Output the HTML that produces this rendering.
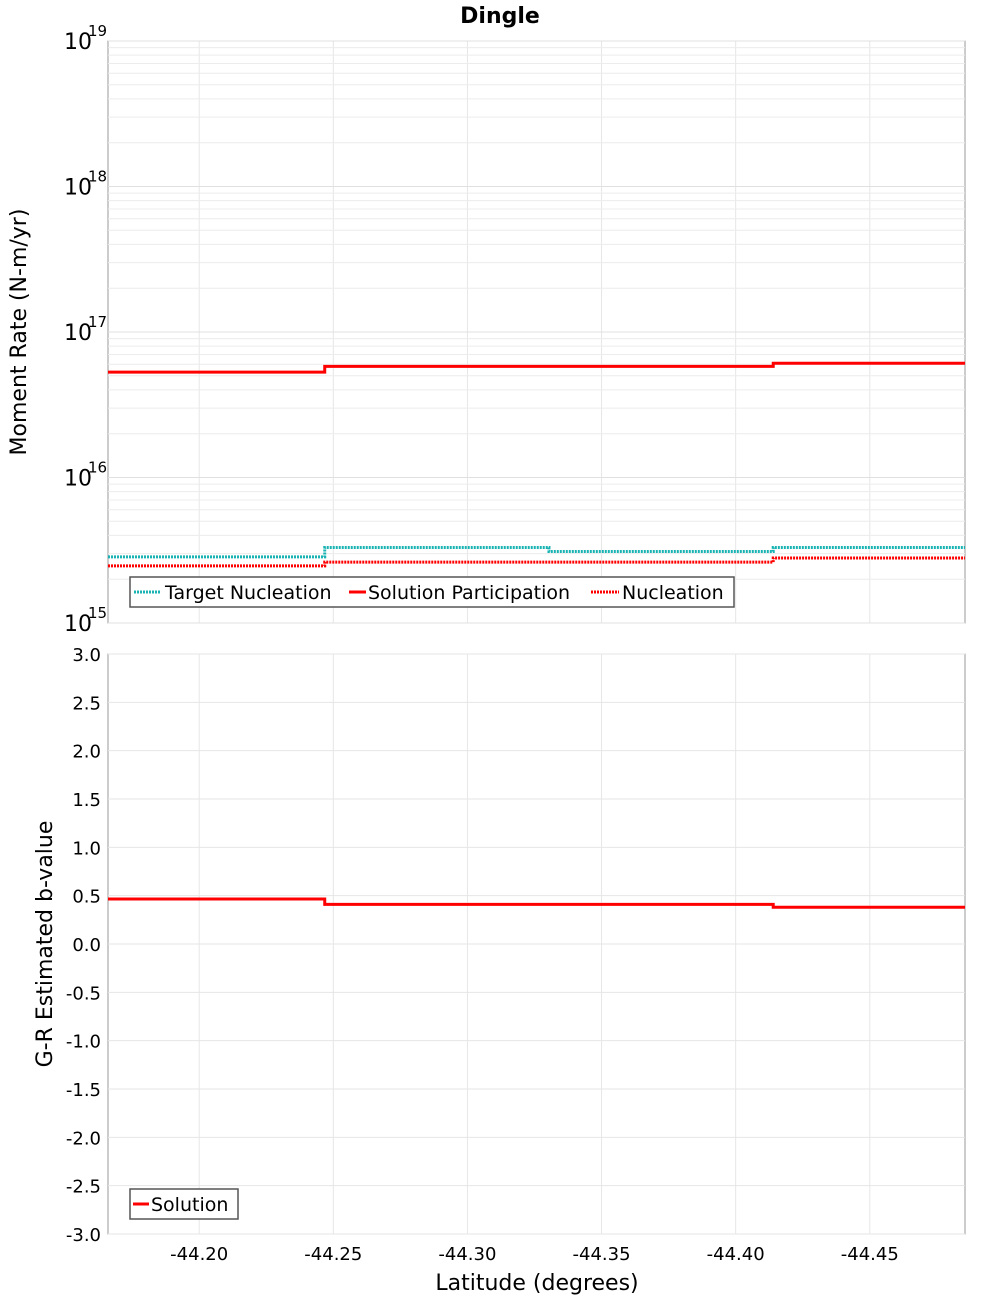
<!DOCTYPE html>
<html><head><meta charset="utf-8"><style>
body{margin:0;background:#fff;}
svg{display:block;font-family:"DejaVu Sans","Liberation Sans",sans-serif;}
</style></head><body>
<svg id="c" width="1000" height="1300" viewBox="0 0 1000 1300" style="position:absolute;left:0;top:0">
<text x="500" y="23" text-anchor="middle" font-size="22" font-weight="bold">Dingle</text>
<g id="gtop"></g>
<g id="gbot"></g>
<g font-size="19">
<rect x="130" y="577" width="604" height="30" fill="#fff" stroke="#555" stroke-width="1.5"/>
<line x1="134" x2="160" y1="592" y2="592" stroke="#1ab3b3" stroke-width="3" stroke-dasharray="2 1"/>
<text x="165" y="599">Target Nucleation</text>
<line x1="349" x2="366" y1="592" y2="592" stroke="#f00" stroke-width="3"/>
<text x="368" y="599">Solution Participation</text>
<line x1="591" x2="619" y1="592" y2="592" stroke="#f00" stroke-width="3" stroke-dasharray="2 1"/>
<text x="622" y="599">Nucleation</text>
</g>
<g font-size="19">
<rect x="130" y="1189" width="108" height="30" fill="#fff" stroke="#555" stroke-width="1.5"/>
<line x1="133" x2="149" y1="1204" y2="1204" stroke="#f00" stroke-width="3"/>
<text x="151" y="1211">Solution</text>
</g>
<text transform="translate(26,332) rotate(-90)" text-anchor="middle" font-size="22">Moment Rate (N-m/yr)</text>
<text transform="translate(52,944) rotate(-90)" text-anchor="middle" font-size="22">G-R Estimated b-value</text>
<text x="537" y="1290" text-anchor="middle" font-size="22">Latitude (degrees)</text>
</svg>
<script>
const binEdges = [-44.166, -44.2468, -44.3304, -44.414, -44.4855];
const solutionParticipation = [5.3e16, 5.8e16, 5.8e16, 6.1e16];
const targetNucleation = [2.85e15, 3.3e15, 3.1e15, 3.3e15];
const nucleation = [2.47e15, 2.62e15, 2.62e15, 2.8e15];
const bValues = [0.465, 0.41, 0.41, 0.38];
const xTicks = [-44.20, -44.25, -44.30, -44.35, -44.40, -44.45];
const logDecades = [15, 16, 17, 18, 19];
const bTicks = [-3,-2.5,-2,-1.5,-1,-0.5,0,0.5,1,1.5,2,2.5,3];

(function(){
const NS = "http://www.w3.org/2000/svg";
const L = 108, R = 965;
const T1 = 41, B1 = 623, T2 = 654, B2 = 1234;
const xMin = -44.166, xMax = -44.4855;
const sx = v => L + (v - xMin) / (xMax - xMin) * (R - L);
const sy1 = v => B1 - (Math.log10(v) - 15) / 4 * (B1 - T1);
const sy2 = v => B2 - (v + 3) / 6 * (B2 - T2);
function mk(parent, tag, attrs, text) {
  const e = document.createElementNS(NS, tag);
  for (const k in attrs) e.setAttribute(k, attrs[k]);
  if (text !== undefined) e.textContent = text;
  parent.appendChild(e);
  return e;
}
const gTop = document.getElementById('gtop'), gBot = document.getElementById('gbot');

function frame(g, T, B) {
  const r = mk(g, 'rect', {x: L, y: T, width: R - L, height: B - T, fill: '#fff', stroke: '#999', 'stroke-width': 1});
  
  
  xTicks.forEach(t => {
    const ln = mk(g, 'line', {x1: sx(t), x2: sx(t), y1: T, y2: B, stroke: '#e6e6e6'});
    
    
  });
}
frame(gTop, T1, B1);
frame(gBot, T2, B2);

logDecades.forEach(d => {
  if (d < 19) for (let m = 2; m <= 9; m++) {
    const yy = sy1(m * Math.pow(10, d));
    const ln = mk(gTop, 'line', {x1: L, x2: R, y1: yy, y2: yy, stroke: '#ececec'});
    
    
  }
  const y = sy1(Math.pow(10, d));
  const ln = mk(gTop, 'line', {x1: L, x2: R, y1: y, y2: y, stroke: '#e0e0e0'});
  
  
  const t = mk(gTop, 'text', {x: 64, y: y + 8, 'font-size': 22}, '10');
  
  
  const s = mk(gTop, 'text', {x: 88, y: y - 5, 'font-size': 15}, String(d));
  
  
});
bTicks.forEach(v => {
  const y = sy2(v);
  const ln = mk(gBot, 'line', {x1: L, x2: R, y1: y, y2: y, stroke: '#e6e6e6'});
  
  
  const t = mk(gBot, 'text', {x: 101, y: y + 7, 'font-size': 18, 'text-anchor': 'end'}, v.toFixed(1));
  
  
});
xTicks.forEach(v => {
  const t = mk(gBot, 'text', {x: sx(v), y: 1260, 'font-size': 18, 'text-anchor': 'middle'}, v.toFixed(2));
  
  
});

function stepPath(vals, sy) {
  let d = '';
  vals.forEach((v, i) => {
    const x0 = sx(binEdges[i]), x1 = sx(binEdges[i + 1]), y = sy(v);
    d += (i === 0 ? 'M' : 'L') + x0 + ' ' + y + ' L' + x1 + ' ' + y + ' ';
  });
  return d;
}
const p1 = mk(gTop, 'path', {d: stepPath(targetNucleation, sy1), fill: 'none', stroke: '#1ab3b3', 'stroke-width': 3, 'stroke-dasharray': '2 1'});


const p2 = mk(gTop, 'path', {d: stepPath(nucleation, sy1), fill: 'none', stroke: '#f00', 'stroke-width': 3, 'stroke-dasharray': '2 1'});


const p3 = mk(gTop, 'path', {d: stepPath(solutionParticipation, sy1), fill: 'none', stroke: '#f00', 'stroke-width': 3});


const p4 = mk(gBot, 'path', {d: stepPath(bValues, sy2), fill: 'none', stroke: '#f00', 'stroke-width': 3});


})();
</script>
</body></html>
